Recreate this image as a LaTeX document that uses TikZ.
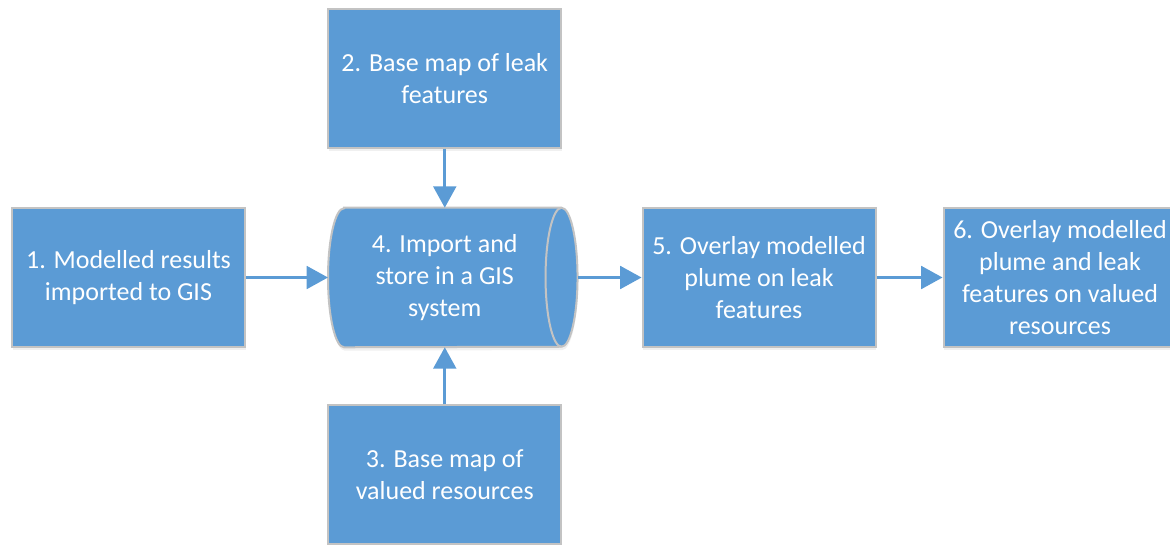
\documentclass[tikz,border=0pt]{standalone}
\usepackage{fontspec}
\setmainfont{Carlito}
\usetikzlibrary{arrows.meta, positioning, shadows, backgrounds}
\definecolor{cBox}{HTML}{5B9BD5}
\definecolor{cBoxB}{HTML}{C3C3C3}
\definecolor{cArr}{HTML}{5B9BD5}

\begin{document}
\begin{tikzpicture}[
    x=0.75pt, y=0.75pt,
    nd/.style={minimum width=174.75pt, minimum height=104.25pt, inner sep=2pt,
               align=center, text=white,
               font=\fontsize{19.5}{24}\selectfont},
    box/.style={nd, fill=cBox, draw=cBoxB, line width=1.5pt,
                drop shadow={shadow xshift=0.5pt, shadow yshift=-2.5pt, opacity=0.12}},
    gisbody/.style={fill=cBox, draw=cBoxB, line width=1.5pt,
                drop shadow={shadow xshift=0.5pt, shadow yshift=-2.5pt, opacity=0.12}},
    ar/.style={-{Triangle[length=16pt,width=17pt]}, draw=cArr, line width=2.2pt},
]
\useasboundingbox (0,0) rectangle (1170,-544);
\clip (0,0) rectangle (1170,-544);

% === MAIN ROW: results -> GIS -> plume -> overlay ===
\node[box] (res) at (128.5,-277.5) {1. Modelled results\\imported to GIS};

\node[nd, right=61.5pt of res] (gis) {4. Import and\\store in a GIS\\system};

\node[box, right=60pt of gis] (plume) {5. Overlay modelled\\plume on leak\\features};

\node[box, right=49.5pt of plume] (ovl) {6. Overlay modelled\\plume and leak\\features on valued\\resources};

% === BASE MAPS above and below ===
\node[box, above=44.25pt of gis] (leak) {2. Base map of leak\\features};
\node[box, below=42.75pt of gis] (valr) {3. Base map of\\valued resources};

% cylinder outline behind the GIS text
\begin{scope}[on background layer]
\draw[gisbody]
    ([xshift=12pt]gis.north west) -- (gis.north east)
    arc[start angle=90, end angle=-90, x radius=12pt, y radius=52.125pt]
    -- ([xshift=12pt]gis.south west)
    arc[start angle=270, end angle=90, x radius=12pt, y radius=52.125pt] -- cycle;
\draw[draw=cBoxB, line width=1.5pt]
    (gis.north east) arc[start angle=90, end angle=270, x radius=12pt, y radius=52.125pt];
\end{scope}

\draw[ar] (res) -- (gis);
\draw[ar] (leak) -- (gis);
\draw[ar] (valr) -- (gis);
\draw[ar] ([xshift=12pt]gis.east) -- (plume);
\draw[ar] (plume) -- (ovl);

\end{tikzpicture}
\end{document}
